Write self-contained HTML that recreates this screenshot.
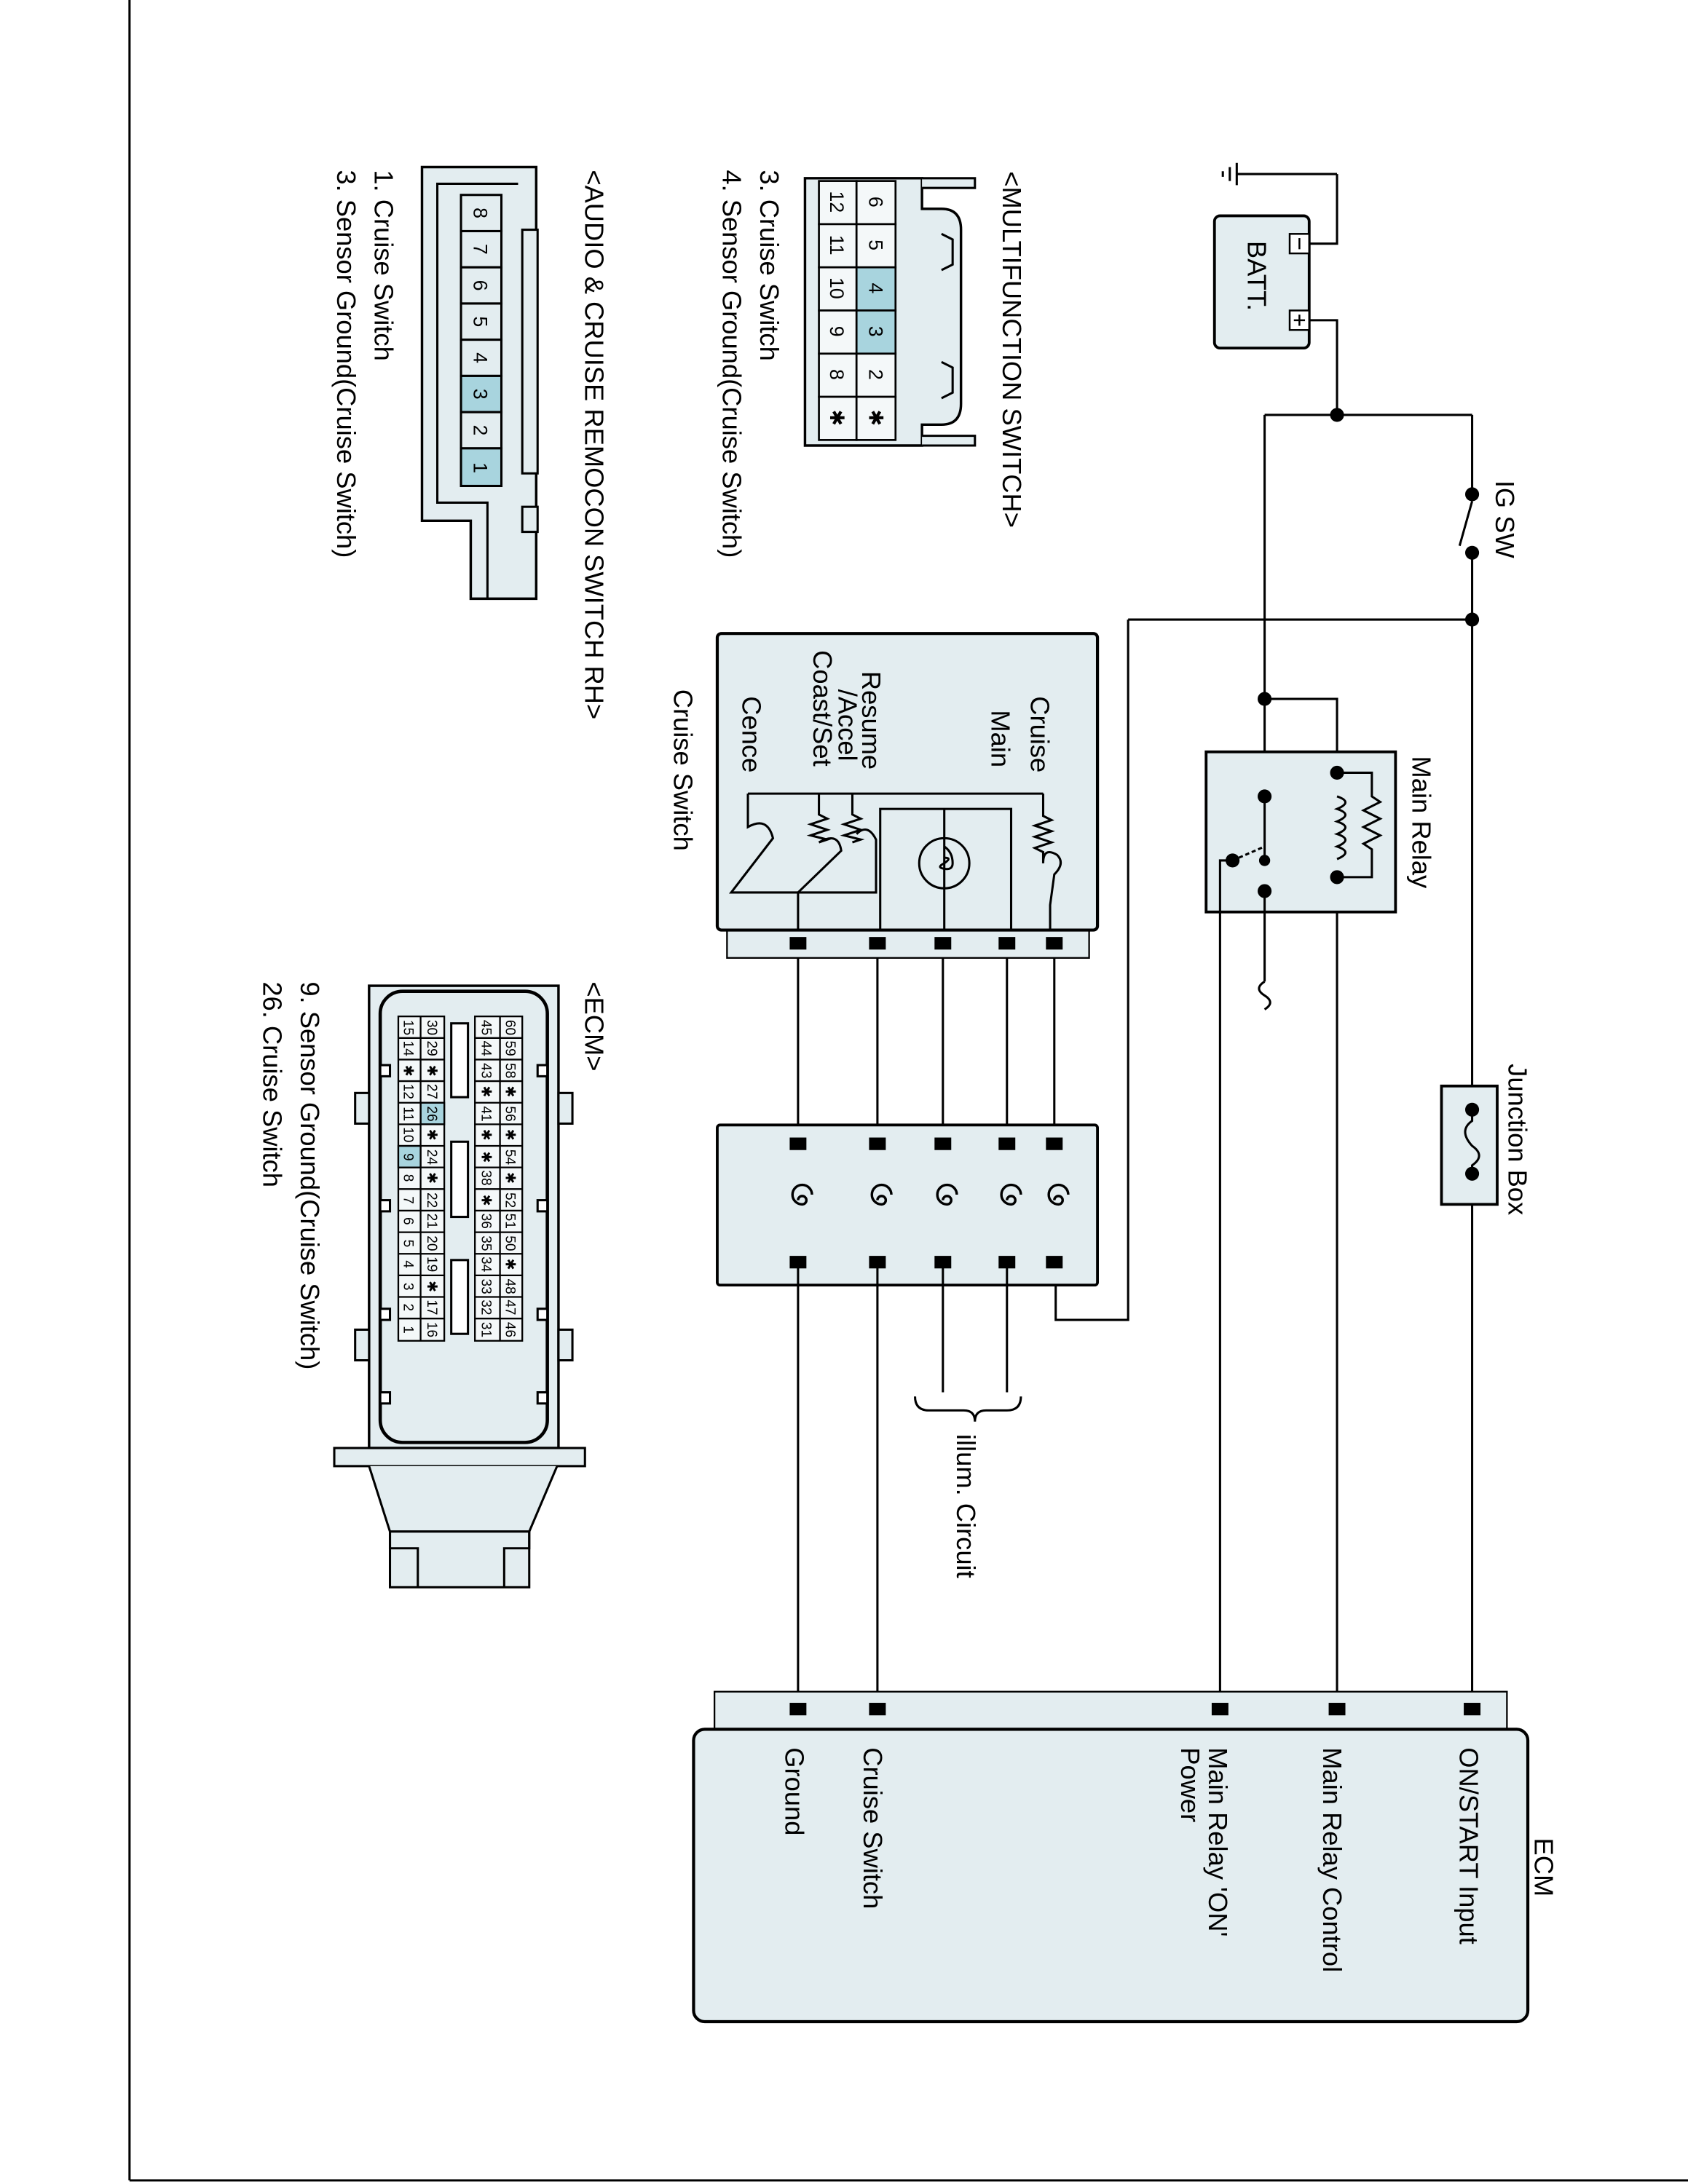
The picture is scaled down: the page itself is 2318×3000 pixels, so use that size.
<!DOCTYPE html>
<html><head><meta charset="utf-8"><style>
html,body{margin:0;padding:0;background:#fff}
svg{display:block}
text{font-family:"Liberation Sans",sans-serif;fill:#000}
</style></head><body>
<svg width="2318" height="3000" viewBox="0 0 1212 1568.6" preserveAspectRatio="none" xmlns="http://www.w3.org/2000/svg">
<g fill="none" stroke="#000" stroke-width="1.6">
<line x1="93" y1="0" x2="93" y2="1566"/>
<line x1="93" y1="1566" x2="1212" y2="1566"/>

<line x1="888" y1="125" x2="960" y2="125"/>
<line x1="888" y1="117" x2="888" y2="133"/><line x1="883" y1="120" x2="883" y2="130"/><line x1="878" y1="123" x2="878" y2="127"/>
<polyline points="960,125 960,175 940,175"/>
<rect x="872" y="155" width="68" height="95" rx="4" fill="#e3edf0" stroke-width="2"/>
<polyline points="940,230 960,230 960,298"/>
<line x1="908" y1="298" x2="1057" y2="298"/>
<line x1="1057" y1="298" x2="1057" y2="355"/>
<line x1="1057" y1="397" x2="1057" y2="780"/>
<line x1="1057" y1="360" x2="1048" y2="392"/>
<line x1="810" y1="445" x2="1057" y2="445"/>
<line x1="908" y1="298" x2="908" y2="705"/>
<path d="M908,705 q-8,5 0,10 q8,5 0,10"/>
<polyline points="908,502 960,502 960,1228"/>
<rect x="1035" y="780" width="40" height="85" fill="#e3edf0" stroke-width="2"/>
<line x1="1057" y1="865" x2="1057" y2="1228"/>
<path d="M1057,797 L1057,805 q-10,7 0,18 q10,7 0,14 L1057,843"/>
<rect x="866" y="540" width="136" height="115" fill="#e3edf0" stroke-width="2"/>
<polyline points="960,555 985,555 985,572 991,576 979,582 991,588 979,594 991,600 979,606 985,610 985,630 960,630"/>
<path d="M960,572 q12,4 0,9 q12,4 0,9 q12,4 0,9 q12,4 0,9 q12,4 0,9"/>
<line x1="908" y1="572" x2="908" y2="615"/>
<line x1="885" y1="618" x2="908" y2="608" stroke-dasharray="3,2"/>
<polyline points="885,618 876,618 876,1228"/>
<line x1="908" y1="640" x2="908" y2="655"/>
<polyline points="810,445 810,948 758,948 758,907"/>

<rect x="522" y="668" width="260" height="20" fill="#e3edf0" stroke-width="1.2"/>
<rect x="515" y="455" width="273" height="213" rx="3" fill="#e3edf0" stroke-width="2.2"/>
<line x1="537" y1="570" x2="749" y2="570"/>
<polyline points="749,570 749,586 755,589 743,593 755,597 743,601 755,605 743,609 749,612 749,620"/>
<path d="M749,620 q0,-12 10,-6 q6,6 -2,14 L754,650 L754,668"/>
<rect x="632" y="581" width="94" height="87"/>
<line x1="678" y1="581" x2="678" y2="668"/>
<circle cx="678" cy="620" r="18"/>
<path d="M678,608 q6,4 6,12 q0,5 -6,4 q-6,-1 0,-4 q6,-4 0,-4"/>
<path d="M537,570 L537,594 q14,-8 18,8 L525,641 L629,641 L629,603 q-6,-12 -14,-4"/>
<polyline points="612,570 612,585 618,588 606,592 618,596 606,600 618,603 612,605"/>
<polyline points="588,570 588,585 594,588 582,592 594,596 582,600 594,603 588,605"/>
<path d="M588,605 q14,-8 16,6 L573,641"/>
<line x1="573" y1="641" x2="573" y2="668"/>
<line x1="573" y1="688" x2="573" y2="822"/>
<line x1="630" y1="688" x2="630" y2="822"/>
<line x1="677" y1="688" x2="677" y2="822"/>
<line x1="723" y1="688" x2="723" y2="822"/>
<line x1="757" y1="688" x2="757" y2="822"/>
<rect x="515" y="808" width="273" height="115" rx="2" fill="#e3edf0" stroke-width="2"/>
<line x1="573" y1="907" x2="573" y2="1228"/>
<line x1="630" y1="907" x2="630" y2="1228"/>
<line x1="677" y1="907" x2="677" y2="1000"/>
<line x1="723" y1="907" x2="723" y2="1000"/>
<path d="M657,1003 q0,10 10,10 l25,0 q8,0 8,8 q0,-8 8,-8 l15,0 q10,0 10,-10"/>
<rect x="513" y="1215" width="569" height="27" fill="#e3edf0" stroke-width="1.2"/>
<rect x="498" y="1242" width="599" height="210" rx="8" fill="#e3edf0" stroke-width="2.2"/>

<path d="M578,128 L662,128 L662,150 L676,150 Q690,150 690,165 L690,290 Q690,305 676,305 L662,305 L662,320 L578,320 Z" fill="#e3edf0" stroke-width="1.8"/>
<path d="M662,128 L700,128 L700,135 L662,135" fill="#e3edf0"/>
<path d="M662,313 L700,313 L700,320 L662,320" fill="#e3edf0"/>
<path d="M676,168 L684,172 L684,190 L676,194 M676,260 L684,264 L684,282 L676,286"/>

<path d="M303,120 L385,120 L385,430 L338,430 L338,374 L303,374 Z" fill="#e3edf0" stroke-width="1.8"/>
<path d="M372,132 L314,132 L314,361 L350,361 L350,430"/>
<rect x="375" y="165" width="11" height="175" fill="#e3edf0"/>
<rect x="375" y="364" width="11" height="18" fill="#e3edf0"/>

<rect x="265" y="708" width="136" height="332" fill="#e3edf0" stroke-width="1.8"/>
<rect x="273" y="712" width="120" height="324" rx="16" stroke-width="2.4"/>
<rect x="240" y="1040" width="180" height="13" fill="#e3edf0"/>
<path d="M265,1053 L280,1100 L380,1100 L400,1053" fill="#e3edf0"/>
<rect x="280" y="1100" width="100" height="40" fill="#e3edf0"/>
<path d="M280,1100 L280,1112 L300,1112 L300,1140 M380,1100 L380,1112 L362,1112 L362,1140"/>
<rect x="401" y="785" width="10" height="22" fill="#e3edf0"/><rect x="401" y="955" width="10" height="22" fill="#e3edf0"/>
<rect x="255" y="785" width="10" height="22" fill="#e3edf0"/><rect x="255" y="955" width="10" height="22" fill="#e3edf0"/>
<rect x="273" y="765" width="7" height="8" fill="#fff"/><rect x="273" y="862" width="7" height="8" fill="#fff"/>
<rect x="273" y="940" width="7" height="8" fill="#fff"/><rect x="273" y="1000" width="7" height="8" fill="#fff"/>
<rect x="386" y="765" width="7" height="8" fill="#fff"/><rect x="386" y="862" width="7" height="8" fill="#fff"/>
<rect x="386" y="940" width="7" height="8" fill="#fff"/><rect x="386" y="1000" width="7" height="8" fill="#fff"/>
<rect x="324" y="735" width="12" height="53" fill="#fff"/>
<rect x="324" y="820" width="12" height="54" fill="#fff"/>
<rect x="324" y="905" width="12" height="53" fill="#fff"/>
</g>

<g fill="#000">
<circle cx="960" cy="298" r="5"/><circle cx="1057" cy="355" r="5"/><circle cx="1057" cy="397" r="5"/><circle cx="1057" cy="445" r="5"/>
<circle cx="908" cy="502" r="5"/><circle cx="960" cy="555" r="5"/><circle cx="908" cy="572" r="5"/><circle cx="960" cy="630" r="5"/>
<circle cx="908" cy="640" r="5"/><circle cx="908" cy="618" r="4"/><circle cx="885" cy="618" r="5"/>
<circle cx="1057" cy="797" r="5"/><circle cx="1057" cy="843" r="5"/>
<rect x="567" y="673" width="12" height="9"/><rect x="624" y="673" width="12" height="9"/><rect x="671" y="673" width="12" height="9"/><rect x="717" y="673" width="12" height="9"/><rect x="751" y="673" width="12" height="9"/>
<rect x="567" y="817" width="12" height="9"/><rect x="624" y="817" width="12" height="9"/><rect x="671" y="817" width="12" height="9"/><rect x="717" y="817" width="12" height="9"/><rect x="751" y="817" width="12" height="9"/>
<rect x="567" y="902" width="12" height="9"/><rect x="624" y="902" width="12" height="9"/><rect x="671" y="902" width="12" height="9"/><rect x="717" y="902" width="12" height="9"/><rect x="751" y="902" width="12" height="9"/>
<rect x="567" y="1223" width="12" height="9"/><rect x="624" y="1223" width="12" height="9"/><rect x="870" y="1223" width="12" height="9"/><rect x="954" y="1223" width="12" height="9"/><rect x="1051" y="1223" width="12" height="9"/>
</g>
<g fill="none" stroke="#000" stroke-width="1.8">
<path d="M573,862 a3,3 0 1,1 3,3 a7,7 0 1,1 7,-7"/>
<path d="M630,862 a3,3 0 1,1 3,3 a7,7 0 1,1 7,-7"/>
<path d="M677,862 a3,3 0 1,1 3,3 a7,7 0 1,1 7,-7"/>
<path d="M723,862 a3,3 0 1,1 3,3 a7,7 0 1,1 7,-7"/>
<path d="M757,862 a3,3 0 1,1 3,3 a7,7 0 1,1 7,-7"/>
</g>

<g fill="none" stroke="#000" stroke-width="1.3">
<rect x="926" y="168" width="14" height="14" fill="#fff"/><line x1="933" y1="171" x2="933" y2="179"/>
<rect x="926" y="223" width="14" height="14" fill="#fff"/><line x1="933" y1="226" x2="933" y2="234"/><line x1="929" y1="230" x2="937" y2="230"/>
</g>

<g stroke="#000" stroke-width="1.4">
<g fill="#f4f8f9">
<rect x="588" y="130" width="27" height="31"/><rect x="588" y="161" width="27" height="31"/><rect x="588" y="192" width="27" height="31"/><rect x="588" y="223" width="27" height="31"/><rect x="588" y="254" width="27" height="31"/><rect x="588" y="285" width="27" height="31"/>
<rect x="615" y="130" width="28" height="31"/><rect x="615" y="161" width="28" height="31"/><rect x="615" y="192" width="28" height="31" fill="#a8d4de"/><rect x="615" y="223" width="28" height="31" fill="#a8d4de"/><rect x="615" y="254" width="28" height="31"/><rect x="615" y="285" width="28" height="31"/>
</g>
</g>
<g font-size="14" text-anchor="middle">
<text transform="translate(624,145) rotate(90)">6</text><text transform="translate(624,176) rotate(90)">5</text><text transform="translate(624,207) rotate(90)">4</text><text transform="translate(624,238) rotate(90)">3</text><text transform="translate(624,269) rotate(90)">2</text><text transform="translate(624,300) rotate(90)">✱</text>
<text transform="translate(596,145) rotate(90)">12</text><text transform="translate(596,176) rotate(90)">11</text><text transform="translate(596,207) rotate(90)">10</text><text transform="translate(596,238) rotate(90)">9</text><text transform="translate(596,269) rotate(90)">8</text><text transform="translate(596,300) rotate(90)">✱</text>
</g>

<g stroke="#000" stroke-width="1.6">
<g fill="#e3edf0">
<rect x="331" y="140" width="29" height="26"/><rect x="331" y="166" width="29" height="26"/><rect x="331" y="192" width="29" height="26"/><rect x="331" y="218" width="29" height="26"/><rect x="331" y="244" width="29" height="26"/>
<rect x="331" y="270" width="29" height="26" fill="#a8d4de"/><rect x="331" y="296" width="29" height="26"/><rect x="331" y="322" width="29" height="27" fill="#a8d4de"/>
</g></g>
<g font-size="14" text-anchor="middle">
<text transform="translate(340,153) rotate(90)">8</text><text transform="translate(340,179) rotate(90)">7</text><text transform="translate(340,205) rotate(90)">6</text><text transform="translate(340,231) rotate(90)">5</text><text transform="translate(340,257) rotate(90)">4</text><text transform="translate(340,283) rotate(90)">3</text><text transform="translate(340,309) rotate(90)">2</text><text transform="translate(340,336) rotate(90)">1</text>
</g>

<g stroke="#000" stroke-width="1.2" fill="#f4f8f9">
<rect x="286" y="730" width="33" height="233"/><rect x="341" y="730" width="34" height="233"/>
<rect x="302" y="792" width="17" height="15.5" fill="#a8d4de"/><rect x="286" y="823" width="16" height="15.5" fill="#a8d4de"/>
<line x1="302" y1="730" x2="302" y2="963"/><line x1="359" y1="730" x2="359" y2="963"/>
<path d="M286,745.5h33M286,761h33M286,776.5h33M286,792h33M286,807.5h33M286,823h33M286,838.5h33M286,854h33M286,869.5h33M286,885h33M286,900.5h33M286,916h33M286,931.5h33M286,947h33"/>
<path d="M341,745.5h34M341,761h34M341,776.5h34M341,792h34M341,807.5h34M341,823h34M341,838.5h34M341,854h34M341,869.5h34M341,885h34M341,900.5h34M341,916h34M341,931.5h34M341,947h34"/>
</g>
<g font-size="10" text-anchor="middle">
<text transform="translate(290,738) rotate(90)">15</text><text transform="translate(290,753) rotate(90)">14</text><text transform="translate(290,769) rotate(90)">✱</text><text transform="translate(290,784) rotate(90)">12</text><text transform="translate(290,800) rotate(90)">11</text><text transform="translate(290,815) rotate(90)">10</text><text transform="translate(290,831) rotate(90)">9</text><text transform="translate(290,846) rotate(90)">8</text><text transform="translate(290,862) rotate(90)">7</text><text transform="translate(290,877) rotate(90)">6</text><text transform="translate(290,893) rotate(90)">5</text><text transform="translate(290,908) rotate(90)">4</text><text transform="translate(290,924) rotate(90)">3</text><text transform="translate(290,939) rotate(90)">2</text><text transform="translate(290,955) rotate(90)">1</text>
<text transform="translate(307,738) rotate(90)">30</text><text transform="translate(307,753) rotate(90)">29</text><text transform="translate(307,769) rotate(90)">✱</text><text transform="translate(307,784) rotate(90)">27</text><text transform="translate(307,800) rotate(90)">26</text><text transform="translate(307,815) rotate(90)">✱</text><text transform="translate(307,831) rotate(90)">24</text><text transform="translate(307,846) rotate(90)">✱</text><text transform="translate(307,862) rotate(90)">22</text><text transform="translate(307,877) rotate(90)">21</text><text transform="translate(307,893) rotate(90)">20</text><text transform="translate(307,908) rotate(90)">19</text><text transform="translate(307,924) rotate(90)">✱</text><text transform="translate(307,939) rotate(90)">17</text><text transform="translate(307,955) rotate(90)">16</text>
<text transform="translate(346,738) rotate(90)">45</text><text transform="translate(346,753) rotate(90)">44</text><text transform="translate(346,769) rotate(90)">43</text><text transform="translate(346,784) rotate(90)">✱</text><text transform="translate(346,800) rotate(90)">41</text><text transform="translate(346,815) rotate(90)">✱</text><text transform="translate(346,831) rotate(90)">✱</text><text transform="translate(346,846) rotate(90)">38</text><text transform="translate(346,862) rotate(90)">✱</text><text transform="translate(346,877) rotate(90)">36</text><text transform="translate(346,893) rotate(90)">35</text><text transform="translate(346,908) rotate(90)">34</text><text transform="translate(346,924) rotate(90)">33</text><text transform="translate(346,939) rotate(90)">32</text><text transform="translate(346,955) rotate(90)">31</text>
<text transform="translate(363,738) rotate(90)">60</text><text transform="translate(363,753) rotate(90)">59</text><text transform="translate(363,769) rotate(90)">58</text><text transform="translate(363,784) rotate(90)">✱</text><text transform="translate(363,800) rotate(90)">56</text><text transform="translate(363,815) rotate(90)">✱</text><text transform="translate(363,831) rotate(90)">54</text><text transform="translate(363,846) rotate(90)">✱</text><text transform="translate(363,862) rotate(90)">52</text><text transform="translate(363,877) rotate(90)">51</text><text transform="translate(363,893) rotate(90)">50</text><text transform="translate(363,908) rotate(90)">✱</text><text transform="translate(363,924) rotate(90)">48</text><text transform="translate(363,939) rotate(90)">47</text><text transform="translate(363,955) rotate(90)">46</text>
</g>

<g font-size="19">
<text transform="translate(1074,345) rotate(90)">IG SW</text>
<text transform="translate(896,173) rotate(90)">BATT.</text>
<text transform="translate(1014,543) rotate(90)">Main Relay</text>
<text transform="translate(1083,764) rotate(90)">Junction Box</text>
<text transform="translate(484,495) rotate(90)">Cruise Switch</text>
<text transform="translate(740,500) rotate(90)">Cruise</text>
<text transform="translate(712,510) rotate(90)">Main</text>
<text transform="translate(619,482) rotate(90)">Resume</text>
<text transform="translate(602,495) rotate(90)">/Accel</text>
<text transform="translate(584,467) rotate(90)">Coast/Set</text>
<text transform="translate(533,500) rotate(90)">Cence</text>
<text transform="translate(687,1030) rotate(90)">illum. Circuit</text>
<text transform="translate(1102,1320) rotate(90)">ECM</text>
<text transform="translate(1048,1255) rotate(90)">ON/START Input</text>
<text transform="translate(950,1255) rotate(90)">Main Relay Control</text>
<text transform="translate(868,1255) rotate(90)">Main Relay 'ON'</text>
<text transform="translate(848,1255) rotate(90)">Power</text>
<text transform="translate(620,1255) rotate(90)">Cruise Switch</text>
<text transform="translate(564,1255) rotate(90)">Ground</text>
<text transform="translate(720,123) rotate(90)">&lt;MULTIFUNCTION SWITCH&gt;</text>
<text transform="translate(546,122) rotate(90)">3. Cruise Switch</text>
<text transform="translate(519,122) rotate(90)">4. Sensor Ground(Cruise Switch)</text>
<text transform="translate(420,122) rotate(90)">&lt;AUDIO &amp; CRUISE REMOCON SWITCH RH&gt;</text>
<text transform="translate(269,122) rotate(90)">1. Cruise Switch</text>
<text transform="translate(242,122) rotate(90)">3. Sensor Ground(Cruise Switch)</text>
<text transform="translate(420,705) rotate(90)">&lt;ECM&gt;</text>
<text transform="translate(216,705) rotate(90)">9. Sensor Ground(Cruise Switch)</text>
<text transform="translate(189,705) rotate(90)">26. Cruise Switch</text>
</g>
</svg>
</body></html>
